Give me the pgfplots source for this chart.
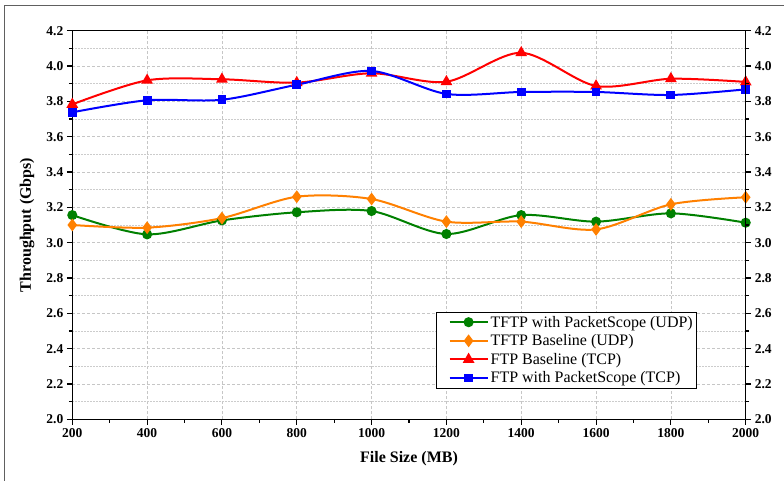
\documentclass[border=0pt]{standalone}
\usepackage{pgfplots}
\pgfplotsset{compat=1.18}
\usepackage{fontspec}
\setmainfont{Liberation Serif}
\definecolor{cgreen}{RGB}{0,128,0}
\definecolor{corange}{RGB}{255,128,0}
\definecolor{cred}{RGB}{255,0,0}
\definecolor{cblue}{RGB}{0,0,255}
\pgfplotsset{
 common/.style={
  at={(72.3pt,61.7pt)}, anchor=south west,
  scale only axis, width=673.4pt, height=388.6pt,
  xmin=200, xmax=2000, ymin=2.0, ymax=4.2,
  xtick={200,400,600,800,1000,1200,1400,1600,1800,2000},
  ytick={2,2.2,2.4,2.6,2.8,3,3.2,3.4,3.6,3.8,4,4.2},
  minor x tick num=1, minor y tick num=1,
  tick align=outside,
  major tick length=5.5pt, minor tick length=3.5pt,
  tick style={black, line width=1.1pt},
  ticklabel style={font=\fontsize{13.5}{14}\selectfont\bfseries},
  /pgf/number format/assume math mode=true,
  yticklabel style={/pgf/number format/.cd, fixed, fixed zerofill, precision=1},
  xticklabel style={/pgf/number format/1000 sep={}},
  axis line style={black, line width=1.3pt},
 }
}
\begin{document}
\begin{tikzpicture}[x=1pt,y=1pt]
\useasboundingbox (0,0) rectangle (784,481);
\draw[gray!75!black, line width=1.2pt] (4.3,-10) -- (4.3,475.3) -- (800,475.3);
\begin{axis}[common,
  xtick pos=bottom, ytick pos=left,
  xmajorgrids, ymajorgrids, yminorgrids,
  major grid style={gray!45, dash pattern=on 3pt off 2pt, line width=0.7pt},
  minor grid style={gray!40, dash pattern=on 1.5pt off 1.5pt, line width=0.6pt},
  xlabel={File Size (MB)}, ylabel={Throughput (Gbps)},
  label style={font=\fontsize{16}{18}\selectfont\bfseries},
  xlabel style={at={(axis description cs:0.5,-0.1)}, anchor=center},
  ylabel style={at={(axis description cs:-0.067,0.5)}, anchor=center},
  legend style={at={(0.928,0.0787)}, anchor=south east, draw=black, line width=0.8pt,
    font=\fontsize{16}{18}\selectfont, row sep=2pt, inner xsep=2pt, inner ysep=2pt},
  legend cell align=left,
  legend image code/.code={\path (-10pt,0pt); \draw[mark repeat=2,mark phase=2,#1] plot coordinates {(0pt,0pt) (19pt,0pt) (38pt,0pt)};},
]
\addplot[cgreen, line width=2pt, smooth, mark=*, mark size=4pt, mark options={solid}] coordinates {
(200,3.156) (400,3.047) (600,3.126) (800,3.172) (1000,3.179) (1200,3.049) (1400,3.156) (1600,3.119) (1800,3.166) (2000,3.113)};
\addlegendentry{TFTP with PacketScope (UDP)}
\addplot[corange, line width=2pt, smooth, mark=diamond*, mark size=4.8pt, mark options={solid}] coordinates {
(200,3.100) (400,3.085) (600,3.139) (800,3.260) (1000,3.247) (1200,3.119) (1400,3.119) (1600,3.075) (1800,3.217) (2000,3.257)};
\addlegendentry{TFTP Baseline (UDP)}
\addplot[cred, line width=2pt, smooth, mark=triangle*, mark size=4.8pt, mark options={solid}] coordinates {
(200,3.783) (400,3.919) (600,3.925) (800,3.906) (1000,3.959) (1200,3.911) (1400,4.075) (1600,3.887) (1800,3.928) (2000,3.910)};
\addlegendentry{FTP Baseline (TCP)}
\addplot[cblue, line width=2pt, smooth, mark=square*, mark size=3.4pt, mark options={solid}] coordinates {
(200,3.738) (400,3.806) (600,3.809) (800,3.894) (1000,3.972) (1200,3.842) (1400,3.853) (1600,3.853) (1800,3.836) (2000,3.868)};
\addlegendentry{FTP with PacketScope (TCP)}
\end{axis}
\begin{axis}[common,
  axis y line*=right, axis x line=none,
  ytick pos=right,
]
\end{axis}
\end{tikzpicture}
\end{document}
